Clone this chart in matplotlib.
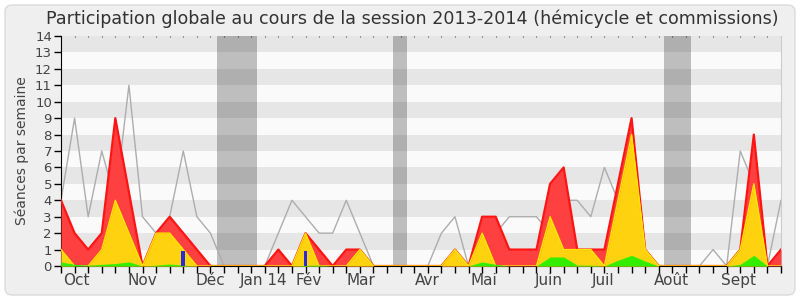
import numpy as np
import matplotlib
matplotlib.use("Agg")
import matplotlib.pyplot as plt
import matplotlib.transforms as mtransforms
from matplotlib.patches import FancyBboxPatch

# weekly data, session 2013-2014 (week 0 = start of October)
weeks = np.arange(54)
total = [4, 2, 1, 2, 9, 4.5, 0, 2, 3, 2, 1, 0, 0, 0, 0, 0, 1, 0, 2, 1,
         0, 1, 1, 0, 0, 0, 0, 0, 0, 1, 0, 3, 3, 1, 1, 1, 5, 6, 1, 1,
         1, 5, 9, 1, 0, 0, 0, 0, 0, 0, 1, 8, 0, 1]
hemicycle = [1, 0, 0, 1, 4, 2, 0, 2, 2, 1, 0, 0, 0, 0, 0, 0, 0, 0, 2, 0,
             0, 0, 1, 0, 0, 0, 0, 0, 0, 1, 0, 2, 0, 0, 0, 0, 3, 1, 1, 1,
             0, 4, 8, 1, 0, 0, 0, 0, 0, 0, 1, 5, 0, 0]
questions = [0.25, 0.1, 0.05, 0.1, 0.15, 0.25, 0, 0.05, 0.12, 0.05, 0, 0, 0, 0,
             0, 0, 0, 0, 0.05, 0.05, 0, 0, 0, 0, 0, 0, 0, 0, 0, 0, 0, 0.25,
             0.1, 0, 0, 0, 0.55, 0.55, 0.05, 0.05, 0, 0.35, 0.65, 0.3, 0, 0,
             0, 0, 0, 0, 0.1, 0.65, 0, 0]
median = [4, 9, 3, 7, 4, 11, 3, 2, 3, 7, 3, 2, 0, 0, 0, 0, 2, 4, 3, 2,
          2, 4, 2, 0, 0, 0, 0, 0, 2, 3, 0, 1, 2, 3, 3, 3, 2, 4, 4, 3,
          6, 4, 5, 0, 0, 0, 0, 0, 1, 0, 7, 5, 0, 4]
blue_weeks = [9, 18]
blue_vals = [0.9, 0.9]
holidays = [(11.48, 14.43), (24.44, 25.47), (44.4, 46.4)]
month_labels = ["Oct", "Nov", "Déc", "Jan 14", "Fév", "Mar", "Avr", "Mai",
                "Juin", "Juil", "Août", "Sept"]
month_pos = [1.15, 6.0, 10.97, 14.9, 18.2, 22.1, 27.0, 31.1, 35.9, 39.9, 44.9, 49.9]

plt.rcParams['font.family'] = ['DejaVu Sans']

fig = plt.figure(figsize=(8, 3), dpi=100)
fig.patch.set_facecolor("white")
fig.patches.append(FancyBboxPatch((0.05, 0.05), 7.9, 2.9,
                                  boxstyle="round,pad=0,rounding_size=0.07",
                                  transform=fig.dpi_scale_trans,
                                  facecolor="#efefef", edgecolor="#dadada",
                                  lw=1, zorder=-10))

ax = fig.add_axes([61 / 800, 34 / 300, 720 / 800, 230 / 300])

for k in range(14):
    ax.axhspan(k, k + 1, color="#e6e6e6" if k % 2 else "#fafafa", lw=0, zorder=0)
for a, b in holidays:
    ax.axvspan(a, b, color="black", alpha=0.24, lw=0, zorder=1)

ax.plot(weeks, median, color="#adadad", lw=1, zorder=2)
ax.fill_between(weeks, 0, total, color="#ff4040", lw=0, zorder=3)
ax.plot(weeks, total, color="#ff1414", lw=1.6, zorder=3)
ax.fill_between(weeks, 0, hemicycle, color="#ffd20f", lw=0, zorder=4)
ax.plot(weeks, hemicycle, color="#ffe600", lw=1.0, zorder=4)
ax.fill_between(weeks, 0, questions, color="#33ee00", lw=0, zorder=5)
ax.bar(blue_weeks, blue_vals, width=0.29, color="#2a2ad8", zorder=6)

ax.set_xlim(0, 53)
ax.set_ylim(0, 14)
ax.set_yticks(range(15))
ax.set_xticks(weeks)
ax.set_xticklabels([])
ax.tick_params(axis="y", length=5, width=1, colors="black", labelcolor="#444444",
               labelsize=9.5, pad=1.5)
ax.tick_params(axis="x", length=5, width=1, colors="black")
ax.spines["top"].set_visible(False)
ax.spines["right"].set_color("#cccccc")

top = ax.secondary_xaxis("top")
top.set_xticks(weeks)
top.tick_params(length=1, direction="in", width=0.8, colors="#444444", labeltop=False)
top.spines["top"].set_visible(False)

trans = mtransforms.blended_transform_factory(ax.transData, ax.transAxes)
for pos, lab in zip(month_pos, month_labels):
    ax.text(pos, -0.03, lab, transform=trans, ha="center", va="top",
            fontsize=11, color="#444444")

fig.text(412 / 800, 1 - 19 / 300,
         "Participation globale au cours de la session 2013-2014 (hémicycle et commissions)",
         ha="center", va="center", fontsize=12.65, color="#333333")
fig.text(22 / 800, 1 - 151 / 300, "Séances par semaine", rotation=90,
         ha="center", va="center", fontsize=10, color="#444444")

fig.savefig("out.png", dpi=100)
